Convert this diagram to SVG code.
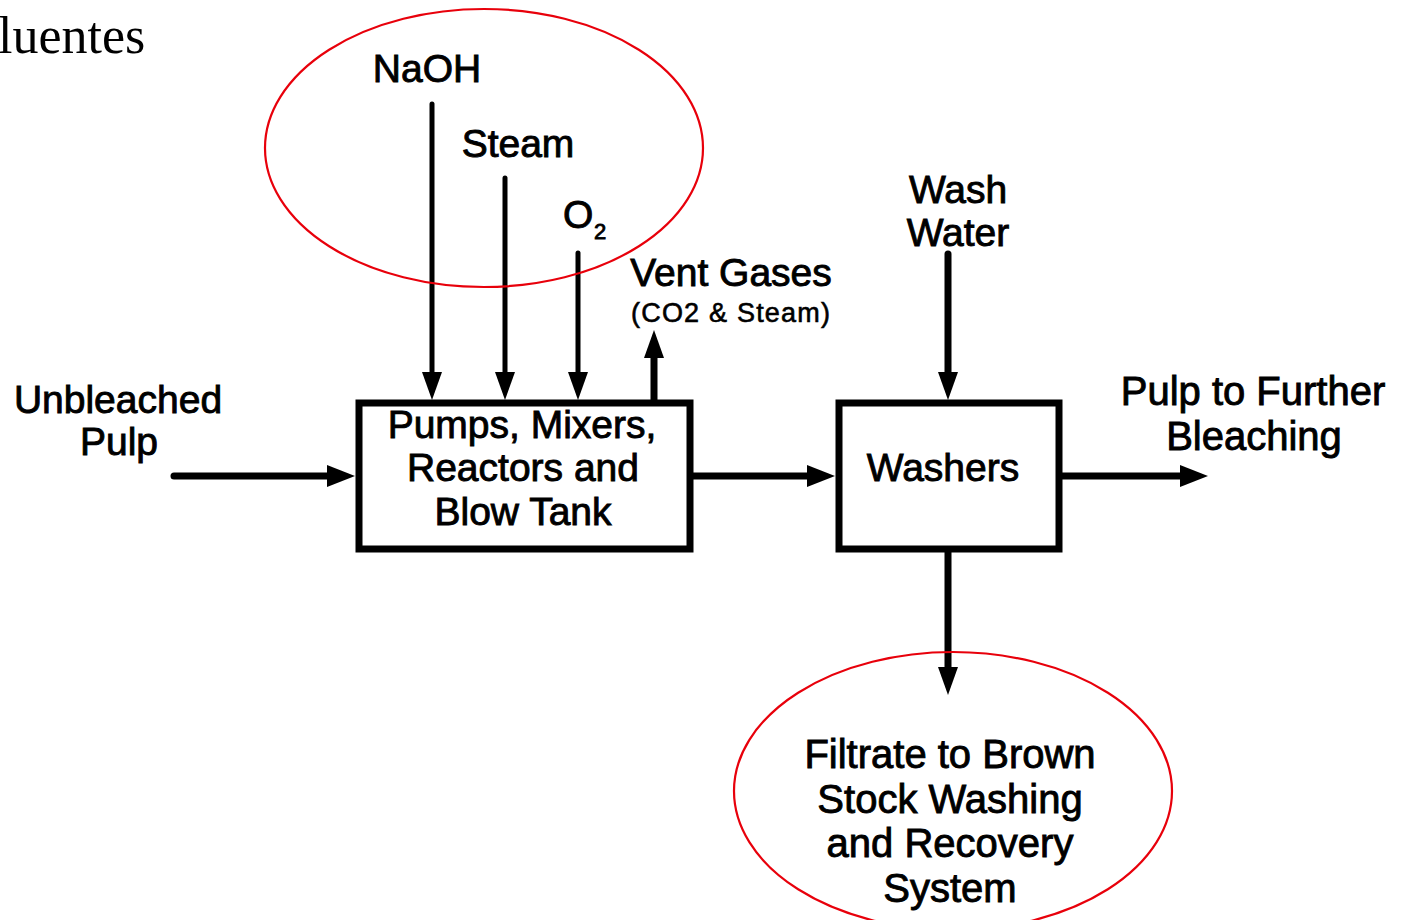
<svg xmlns="http://www.w3.org/2000/svg" width="1403" height="920" viewBox="0 0 1403 920">
<style>
.t{font-family:"Liberation Sans",Arial,sans-serif;font-size:39px;fill:#000;stroke:#000;stroke-width:0.9px}
.l{font-size:40px}
.s{font-family:"Liberation Sans",Arial,sans-serif;font-size:27px;letter-spacing:1.2px;fill:#000;stroke:#000;stroke-width:0.6px}
.box{fill:#fff;stroke:#000;stroke-width:7}
.thin{stroke:#000;stroke-width:5;fill:none;stroke-linecap:round}
.thick{stroke:#000;stroke-width:7;fill:none;stroke-linecap:round}
.ring{fill:none;stroke:#e8000b;stroke-width:2.2}
</style>
<defs>
<marker id="ah" markerUnits="userSpaceOnUse" markerWidth="28" markerHeight="22" refX="6" refY="11" orient="auto">
<path d="M0,0 L28,11 L0,22 z" fill="#000"/>
</marker>
<marker id="ahs" markerUnits="userSpaceOnUse" markerWidth="28" markerHeight="20" refX="6" refY="10" orient="auto">
<path d="M0,0 L28,10 L0,20 z" fill="#000"/>
</marker>
</defs>
<rect width="1403" height="920" fill="#fff"/>
<text x="-2" y="53" font-family="'Liberation Serif','Times New Roman',serif" font-size="52">luentes</text>

<g id="connectors">
<line class="thin" x1="432" y1="104" x2="432" y2="378" marker-end="url(#ahs)"/>
<line class="thin" x1="505" y1="178" x2="505" y2="378" marker-end="url(#ahs)"/>
<line class="thin" x1="578" y1="253" x2="578" y2="378" marker-end="url(#ahs)"/>
<line class="thick" x1="654" y1="400" x2="654" y2="352" marker-end="url(#ahs)"/>
<line class="thick" x1="948" y1="254" x2="948" y2="378" marker-end="url(#ahs)"/>
<line class="thick" x1="948" y1="551" x2="948" y2="673" marker-end="url(#ahs)"/>
<line class="thick" x1="174" y1="476" x2="333" y2="476" marker-end="url(#ah)"/>
<line class="thick" x1="693" y1="476" x2="813" y2="476" marker-end="url(#ah)"/>
<line class="thick" x1="1062" y1="476" x2="1186" y2="476" marker-end="url(#ah)"/>
</g>

<g id="node-process">
<rect class="box" x="359" y="403" width="331" height="146"/>
<text class="t" x="522" y="438" text-anchor="middle">Pumps, Mixers,</text>
<text class="t" x="523" y="481" text-anchor="middle">Reactors and</text>
<text class="t" x="523" y="525" text-anchor="middle">Blow Tank</text>
</g>

<g id="node-washers">
<rect class="box" x="839" y="403" width="220" height="146"/>
<text class="t" x="943" y="481" text-anchor="middle">Washers</text>
</g>

<g id="node-inputs">
<ellipse class="ring" cx="484" cy="148" rx="219" ry="139"/>
<text class="t" x="427" y="82" text-anchor="middle">NaOH</text>
<text class="t" x="518" y="157" text-anchor="middle">Steam</text>
<text class="t" x="563" y="228">O</text>
<text class="t" x="594" y="239" style="font-size:22px">2</text>
</g>

<g id="node-vent">
<text class="t" x="731" y="286" text-anchor="middle">Vent Gases</text>
<text class="s" x="631" y="322">(CO2 &amp; Steam)</text>
</g>

<g id="node-washwater">
<text class="t" x="958" y="203" text-anchor="middle">Wash</text>
<text class="t" x="958" y="246" text-anchor="middle">Water</text>
</g>

<g id="node-unbleached">
<text class="t" x="118" y="413" text-anchor="middle">Unbleached</text>
<text class="t" x="119" y="455" text-anchor="middle">Pulp</text>
</g>

<g id="node-further">
<text class="t l" x="1253" y="405" text-anchor="middle">Pulp to Further</text>
<text class="t l" x="1254" y="450" text-anchor="middle">Bleaching</text>
</g>

<g id="node-filtrate">
<ellipse class="ring" cx="953" cy="791" rx="219" ry="139"/>
<text class="t l" x="950" y="768" text-anchor="middle">Filtrate to Brown</text>
<text class="t l" x="950" y="813" text-anchor="middle">Stock Washing</text>
<text class="t l" x="950" y="857" text-anchor="middle">and Recovery</text>
<text class="t l" x="950" y="902" text-anchor="middle">System</text>
</g>
</svg>
